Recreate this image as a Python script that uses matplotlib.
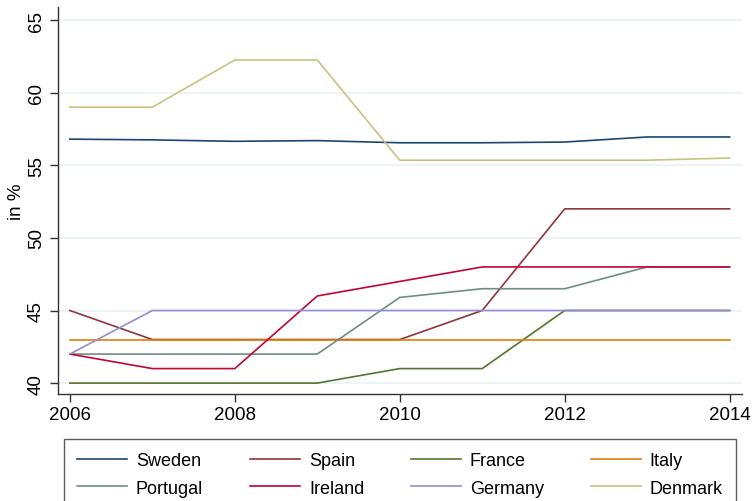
import matplotlib.pyplot as plt
import numpy as np

years = [2006, 2007, 2008, 2009, 2010, 2011, 2012, 2013, 2014]

sweden = [56.8, 56.75, 56.65, 56.7, 56.55, 56.55, 56.6, 56.95, 56.95]
spain = [45, 43, 43, 43, 43, 45, 52, 52, 52]
france = [40, 40, 40, 40, 41, 41, 45, 45, 45]
italy = [43, 43, 43, 43, 43, 43, 43, 43, 43]
portugal = [42, 42, 42, 42, 45.9, 46.5, 46.5, 48, 48]
ireland = [42, 41, 41, 46, 47, 48, 48, 48, 48]
germany = [42, 45, 45, 45, 45, 45, 45, 45, 45]
denmark = [59, 59, 62.25, 62.25, 55.35, 55.35, 55.35, 55.35, 55.5]

countries = ["Sweden", "Spain", "France", "Italy", "Portugal", "Ireland", "Germany", "Denmark"]
series = [sweden, spain, france, italy, portugal, ireland, germany, denmark]
# stata s2color
colors = ["#1a476f", "#90353b", "#55752f", "#e37e00", "#6e8e84", "#c10534", "#938dd2", "#cac27e"]

plt.rcParams['font.family'] = ['Liberation Sans', 'DejaVu Sans']

fig = plt.figure(figsize=(7.53, 5.02), dpi=100)
ax = fig.add_axes([57.5/753, 1-395/502, (742-57.5)/753, (395-8)/502])

lines = []
for name, vals, c in zip(countries, series, colors):
    l, = ax.plot(years, vals, color=c, lw=1.2, label=name)
    lines.append(l)

ax.set_xlim(2005.85, 2014.15)
ax.set_ylim(39.25, 65.9)
ax.set_xticks([2006, 2008, 2010, 2012, 2014])
ax.set_yticks([40, 45, 50, 55, 60, 65])
ax.grid(axis='y', color='#eaf2f3', lw=1.2)
ax.set_axisbelow(True)
for s in ['top', 'right']:
    ax.spines[s].set_visible(False)
for s in ['left', 'bottom']:
    ax.spines[s].set_color('#333333')
    ax.spines[s].set_linewidth(1.0)
ax.tick_params(axis='both', length=6, width=1.0, color='#333333', labelsize=13.5, pad=3)
for t in ax.get_yticklabels():
    t.set_rotation(90)
    t.set_va('center')
ax.set_ylabel("in %", fontsize=13.5, labelpad=2)

# stata fills legend row by row
order = [0, 4, 1, 5, 2, 6, 3, 7]
leg = fig.legend([lines[i] for i in order], [countries[i] for i in order],
                 ncol=4, mode='expand', loc='upper left',
                 bbox_to_anchor=(64/753, -0.1, (736-64)/753, 1-440/502+0.1),
                 borderaxespad=0, prop={'size': 13},
                 handlelength=2.75, handletextpad=0.5, borderpad=0.73,
                 labelspacing=0.58, fancybox=False, edgecolor='#333333')
leg.get_frame().set_linewidth(1.0)

fig.savefig("out.png", dpi=100)
